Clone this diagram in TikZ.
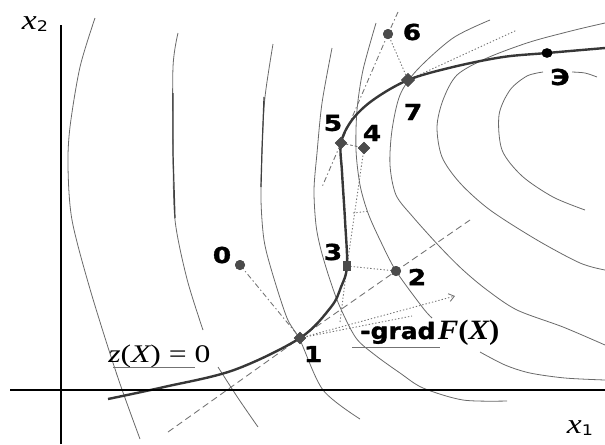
\documentclass[tikz,border=0pt]{standalone}
\usepackage{fontspec}
\setmainfont{Liberation Serif}
\newfontfamily\lblfont{DejaVu Sans Bold}[FakeBold=1.2]
\newfontfamily\subfont{DejaVu Sans}
\usetikzlibrary{shapes.geometric,arrows.meta}
\definecolor{contc}{RGB}{105,105,105}
\definecolor{dashc}{RGB}{115,115,115}
\definecolor{curvec}{RGB}{55,55,55}
\definecolor{ptcol}{RGB}{75,75,75}
\newcommand{\hstr}[1]{\scalebox{1.2}[1]{#1}}
\newcommand{\axlbl}[1]{\hstr{{\fontsize{21}{24}\selectfont\itshape x}\raisebox{-0.4ex}{\subfont\fontsize{11}{12}\selectfont #1}}}
\tikzset{
  contour/.style={contc, line width=0.6pt},
  darkseg/.style={black!75, line width=0.9pt},
  aux/.style={dashc, line width=0.65pt},
  dashln/.style={aux, dash pattern=on 5pt off 3pt},
  shortdash/.style={aux, dash pattern=on 2pt off 1.5pt},
  dotln/.style={aux, dash pattern=on 1pt off 1.5pt},
  dashdotln/.style={aux, dash pattern=on 4pt off 2pt on 1pt off 2pt},
  zcurve/.style={curvec, line width=1.8pt},
  axisln/.style={black, line width=1.3pt},
  ptc/.style={circle, fill=ptcol, inner sep=0pt, minimum size=7.5pt},
  ptd/.style={diamond, fill=ptcol, inner sep=0pt, minimum size=9.5pt},
  ptr/.style={rectangle, fill=ptcol, inner sep=0pt, minimum width=5.5pt, minimum height=8pt},
  ptE/.style={ellipse, fill=black, inner sep=0pt, minimum width=8pt, minimum height=7pt},
  numlbl/.style={font=\lblfont\fontsize{16.5}{18}\selectfont, inner sep=0pt},
  txtlbl/.style={inner sep=0pt, anchor=base west}
}
\begin{document}
\begin{tikzpicture}[x=0.75pt, y=-0.75pt]
\useasboundingbox (0,0) rectangle (605,444);

% level lines of F
\draw[contour] plot[smooth] coordinates {(95,18) (80,67) (70,127) (68,167) (72,220) (90,289) (117,375) (140,439)};
\draw[contour] plot[smooth] coordinates {(178,33) (173,67) (173,153) (175,220) (187,279) (203,330)};
\draw[contour] plot[smooth] coordinates {(218,367) (238,398) (258,427)};
\draw[contour] plot[smooth] coordinates {(273,44) (265,97) (262,150) (261,200) (264,240) (272,272) (287,318) (300,340) (323,390) (360,419)};
\draw[contour] plot[smooth] coordinates {(332,48) (322,103) (317,153) (314,190) (316,225) (321,250) (330,280) (340,307) (356,338) (375,355) (400,373) (423,388) (463,400) (507,401)};
\draw[contour] plot[smooth] coordinates {(376,23) (363,70) (357,110) (356,150) (360,185) (368,213) (380,240) (396,271) (423,308) (432,318)};
\draw[contour] plot[smooth] coordinates {(480,352) (505,365) (530,373) (565,378) (605,380)};
\draw[contour] plot[smooth] coordinates {(490,20) (453,38) (417,70) (400,95) (392,130) (390,165) (396,195) (413,217) (440,247) (463,270) (487,290) (517,310) (563,327) (605,345)};
\draw[contour] plot[smooth] coordinates {(605,23) (575,30) (530,42) (487,58) (457,75) (443,100) (437,127) (442,157) (460,183) (490,210) (537,240) (580,263) (605,270)};
\draw[contour] plot[smooth] coordinates {(543,72) (527,76) (510,90) (499,115) (502,150) (522,176) (553,197) (585,210)};
\draw[contour] plot[smooth] coordinates {(572,72) (585,73) (597,77)};
\draw[darkseg] (173,93) -- (173,153) -- (175,218);
\draw[darkseg] (264,97) -- (262,150) -- (261,187);

% points
\node[ptc] (p0) at (240,265) {};
\node[ptd] (p1) at (300,338) {};
\node[ptc] (p2) at (396,271) {};
\node[ptr] (p3) at (347,266) {};
\node[ptd] (p4) at (364,148) {};
\node[ptd] (p5) at (341,143) {};
\node[ptc] (p6) at (388,34) {};
\node[ptd, minimum size=10.5pt] (p7) at (408,80) {};
\node[ptE] (pE) at (547,53) {};

% auxiliary lines
\coordinate (a12) at (168,432);
\coordinate (b12) at (470,220);
\coordinate (c34) at (340,322);
\coordinate (t1) at (353,213);
\coordinate (t2) at (370,211);
\coordinate (a65) at (398,12);
\coordinate (b65) at (322,187);
\coordinate (e7) at (517,30);
\coordinate (g1) at (455,296);
\coordinate (g2) at (412,316);
\draw[dashln] (a12) -- (p1.center) -- (p2.center) -- (b12);
\draw[dashdotln] (p0.center) -- (p1.center);
\draw[dotln] (p3.center) -- (p2.center);
\draw[dotln] (c34) -- (p3.center) -- (p4.center);
\draw[dotln] (t1) -- (t2);
\draw[shortdash] (p5.center) -- (p4.center);
\draw[dashdotln] (a65) -- (p6.center) -- (p5.center) -- (b65);
\draw[dotln] (p6.center) -- (p7.center);
\draw[dotln] (p7.center) -- (e7);
\draw[dotln, -{Straight Barb[length=4pt,width=6pt]}] (p1.center) -- (g1);
\draw[dotln] (p1.center) -- (g2);

% constraint curve z(X)=0
\draw[zcurve] plot[smooth, tension=0.55] coordinates {(108,399) (164,387) (234,370) (p1.center) (331,307) (341,287) (p3.center) (345,220) (342,172) (p5.center) (352,120) (373,100) (p7.center) (453,67) (503,57) (pE.center) (605,48)};

% redraw markers on top
\node[ptc] at (p0) {};
\node[ptd] at (p1) {};
\node[ptc] at (p2) {};
\node[ptr] at (p3) {};
\node[ptd] at (p4) {};
\node[ptd] at (p5) {};
\node[ptc] at (p6) {};
\node[ptd, minimum size=10.5pt] at (p7) {};
\node[ptE] at (pE) {};

% axes
\coordinate (yb) at (61,444);
\coordinate (yt) at (61,25);
\coordinate (xl) at (10,390);
\coordinate (xr) at (605,390);
\draw[axisln] (yb) -- (yt);
\draw[axisln] (xl) -- (xr);
\node (lx2) at (35,24) {\axlbl{2}};
\node (lx1) at (580,428) {\axlbl{1}};

% point labels
\node[numlbl] (l0) at (222,255) {\hstr{0}};
\node[numlbl] (l1) at (313,354) {\hstr{1}};
\node[numlbl] (l2) at (417,277) {\hstr{2}};
\node[numlbl] (l3) at (333,252) {\hstr{3}};
\node[numlbl] (l4) at (372,133) {\hstr{4}};
\node[numlbl] (l5) at (333,123) {\hstr{5}};
\node[numlbl] (l6) at (412,32) {\hstr{6}};
\node[numlbl] (l7) at (413,112) {\hstr{7}};
\node[numlbl] (lE) at (560,77) {\hstr{Э}};

% texts
\node[txtlbl] (zlbl) at (108,362) {\scalebox{1.25}[1]{\fontsize{19}{22}\selectfont\itshape z\upshape(\itshape X\upshape) = 0}};
\coordinate (zu1) at (113,367);
\coordinate (zu2) at (195,367);
\draw[aux] (zu1) -- (zu2);
\node[txtlbl] (glbl) at (360,339) {\scalebox{1.1}[1]{{\lblfont\fontsize{17}{19}\selectfont -grad}\,{\bfseries\fontsize{21}{24}\selectfont\itshape F\upshape(\itshape X\upshape)}}};
\coordinate (gu1) at (352,347);
\coordinate (gu2) at (440,347);
\draw[aux] (gu1) -- (gu2);
\end{tikzpicture}
\end{document}
